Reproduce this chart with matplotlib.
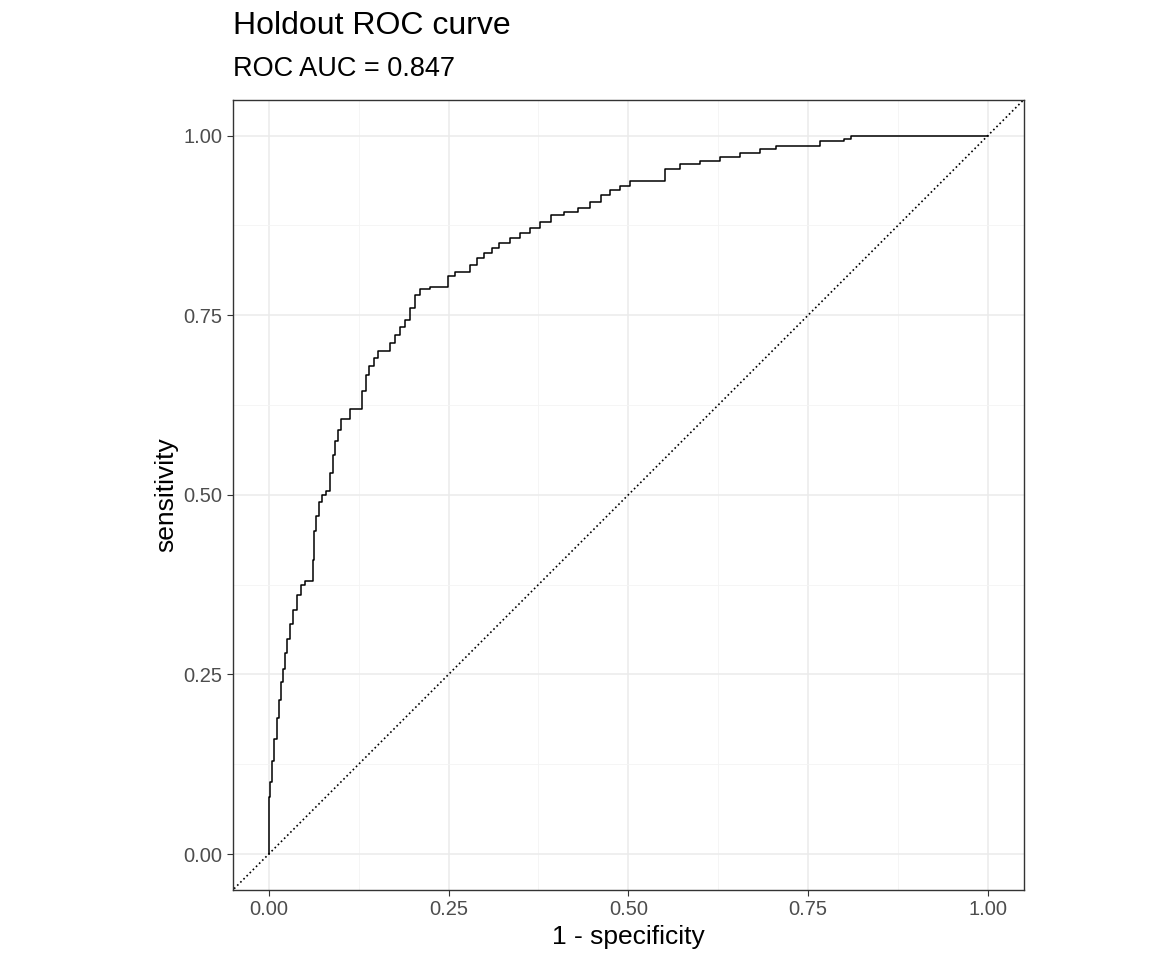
import numpy as np
import matplotlib.pyplot as plt

plt.rcParams['font.family'] = ['Liberation Sans', 'DejaVu Sans']

# ROC curve points (1 - specificity, sensitivity)
fpr = [0.0, 0.0, 0.002, 0.004, 0.007, 0.011, 0.014, 0.017, 0.020, 0.022, 0.026,
       0.029, 0.034, 0.039, 0.045, 0.050, 0.061, 0.063, 0.065, 0.070,
       0.074, 0.080, 0.085, 0.089, 0.092, 0.096, 0.100, 0.113, 0.130, 0.135,
       0.140, 0.146, 0.152, 0.168, 0.175, 0.182, 0.189, 0.196, 0.203, 0.210,
       0.224, 0.249, 0.259, 0.280, 0.290, 0.300, 0.310, 0.320, 0.335, 0.350,
       0.363, 0.377, 0.393, 0.410, 0.430, 0.447, 0.462, 0.474, 0.488, 0.502,
       0.551, 0.572, 0.600, 0.627, 0.655, 0.683, 0.705, 0.725, 0.766,
       0.800, 0.810, 0.820, 1.0]
tpr = [0.0, 0.05, 0.08, 0.10, 0.13, 0.16, 0.19, 0.215, 0.24, 0.257, 0.28,
       0.30, 0.32, 0.34, 0.36, 0.375, 0.38, 0.41, 0.45, 0.47,
       0.49, 0.50, 0.505, 0.53, 0.555, 0.575, 0.59, 0.605, 0.62, 0.645,
       0.667, 0.68, 0.69, 0.70, 0.712, 0.722, 0.733, 0.743, 0.76, 0.778,
       0.787, 0.79, 0.805, 0.81, 0.82, 0.83, 0.837, 0.843, 0.85, 0.857,
       0.864, 0.871, 0.88, 0.889, 0.894, 0.899, 0.908, 0.917, 0.924, 0.93,
       0.9375, 0.954, 0.96, 0.965, 0.97, 0.976, 0.981, 0.985, 0.986,
       0.993, 0.996, 1.0, 1.0]
ticks = [0.0, 0.25, 0.5, 0.75, 1.0]
tick_labels = ['0.00', '0.25', '0.50', '0.75', '1.00']

fig = plt.figure(figsize=(11.7, 9.72), dpi=100)
ax = fig.add_axes([0.199, 0.0844, 0.676, 0.813])

ax.plot([-1, 2], [-1, 2], color='black', linestyle=':', linewidth=1.2)
ax.step(fpr, tpr, where='pre', color='black', linewidth=1.1)

ax.set_xlim(-0.05, 1.05)
ax.set_ylim(-0.05, 1.05)
ax.set_xticks(ticks)
ax.set_xticklabels(tick_labels)
ax.set_yticks(ticks)
ax.set_yticklabels(tick_labels)
ax.set_xticks([0.125, 0.375, 0.625, 0.875], minor=True)
ax.set_yticks([0.125, 0.375, 0.625, 0.875], minor=True)
ax.grid(which='major', color='#ebebeb', linewidth=1.1)
ax.grid(which='minor', color='#f4f4f4', linewidth=0.6)
ax.set_axisbelow(True)
ax.tick_params(which='minor', length=0)
ax.tick_params(which='major', length=4, color='#333333', labelsize=14.5,
               labelcolor='#4d4d4d')
for s in ax.spines.values():
    s.set_color('#333333')
    s.set_linewidth(1.0)

ax.set_xlabel('1 - specificity', fontsize=19, labelpad=4)
ax.set_ylabel('sensitivity', fontsize=19)
fig.text(0.199, 0.958, 'Holdout ROC curve', fontsize=23, va='bottom')
fig.text(0.199, 0.916, 'ROC AUC = 0.847', fontsize=19.5, va='bottom')

fig.savefig('out.png', dpi=100)
